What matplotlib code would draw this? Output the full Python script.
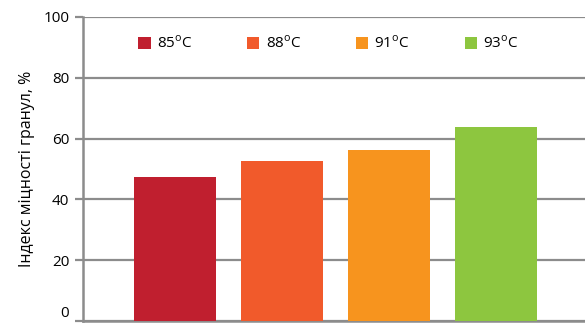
import matplotlib.pyplot as plt

temps = ['85', '88', '91', '93']
strength = [47.4, 52.7, 56.3, 63.7]
colors = ['#C01F2F', '#F15A2B', '#F7941E', '#8DC63F']
yticks = [0, 20, 40, 60, 80, 100]

plt.rcParams['font.family'] = ['Open Sans', 'DejaVu Sans']

fig = plt.figure(figsize=(5.85, 3.24), dpi=100)
ax = fig.add_axes([0.142, 0.009, 0.858, 0.939])

grid_col = '#8c8c8c'
for i, (t, v, c) in enumerate(zip(temps, strength, colors)):
    ax.bar(i, v, width=0.77, color=c, zorder=3, label=t + r'$^\mathregular{o}$C')

ax.set_xlim(-0.86, 3.83)
ax.set_ylim(0, 100)
ax.set_yticks(yticks)
ax.set_xticks([])
ax.yaxis.grid(True, color=grid_col, linewidth=1.6, zorder=1)
ax.tick_params(axis='y', length=6, width=1.6, color=grid_col, labelsize=11, pad=4)
# keep the zero label inside the figure
ax.yaxis.get_major_ticks()[0].label1.set_verticalalignment('bottom')

for side in ['top', 'right']:
    ax.spines[side].set_visible(False)
for side in ['left', 'bottom']:
    ax.spines[side].set_color(grid_col)
    ax.spines[side].set_linewidth(1.8)
ax.spines['left'].set_zorder(4)

ax.set_ylabel('Індекс міцності гранул, %', fontsize=11.5, labelpad=6)

ax.legend(loc='center left', bbox_to_anchor=(0.098, 0.912), ncol=4, frameon=False,
          fontsize=11, handlelength=0.8, handleheight=0.8, handletextpad=0.4,
          columnspacing=3.6, borderaxespad=0)

fig.savefig('out.png', dpi=100)
